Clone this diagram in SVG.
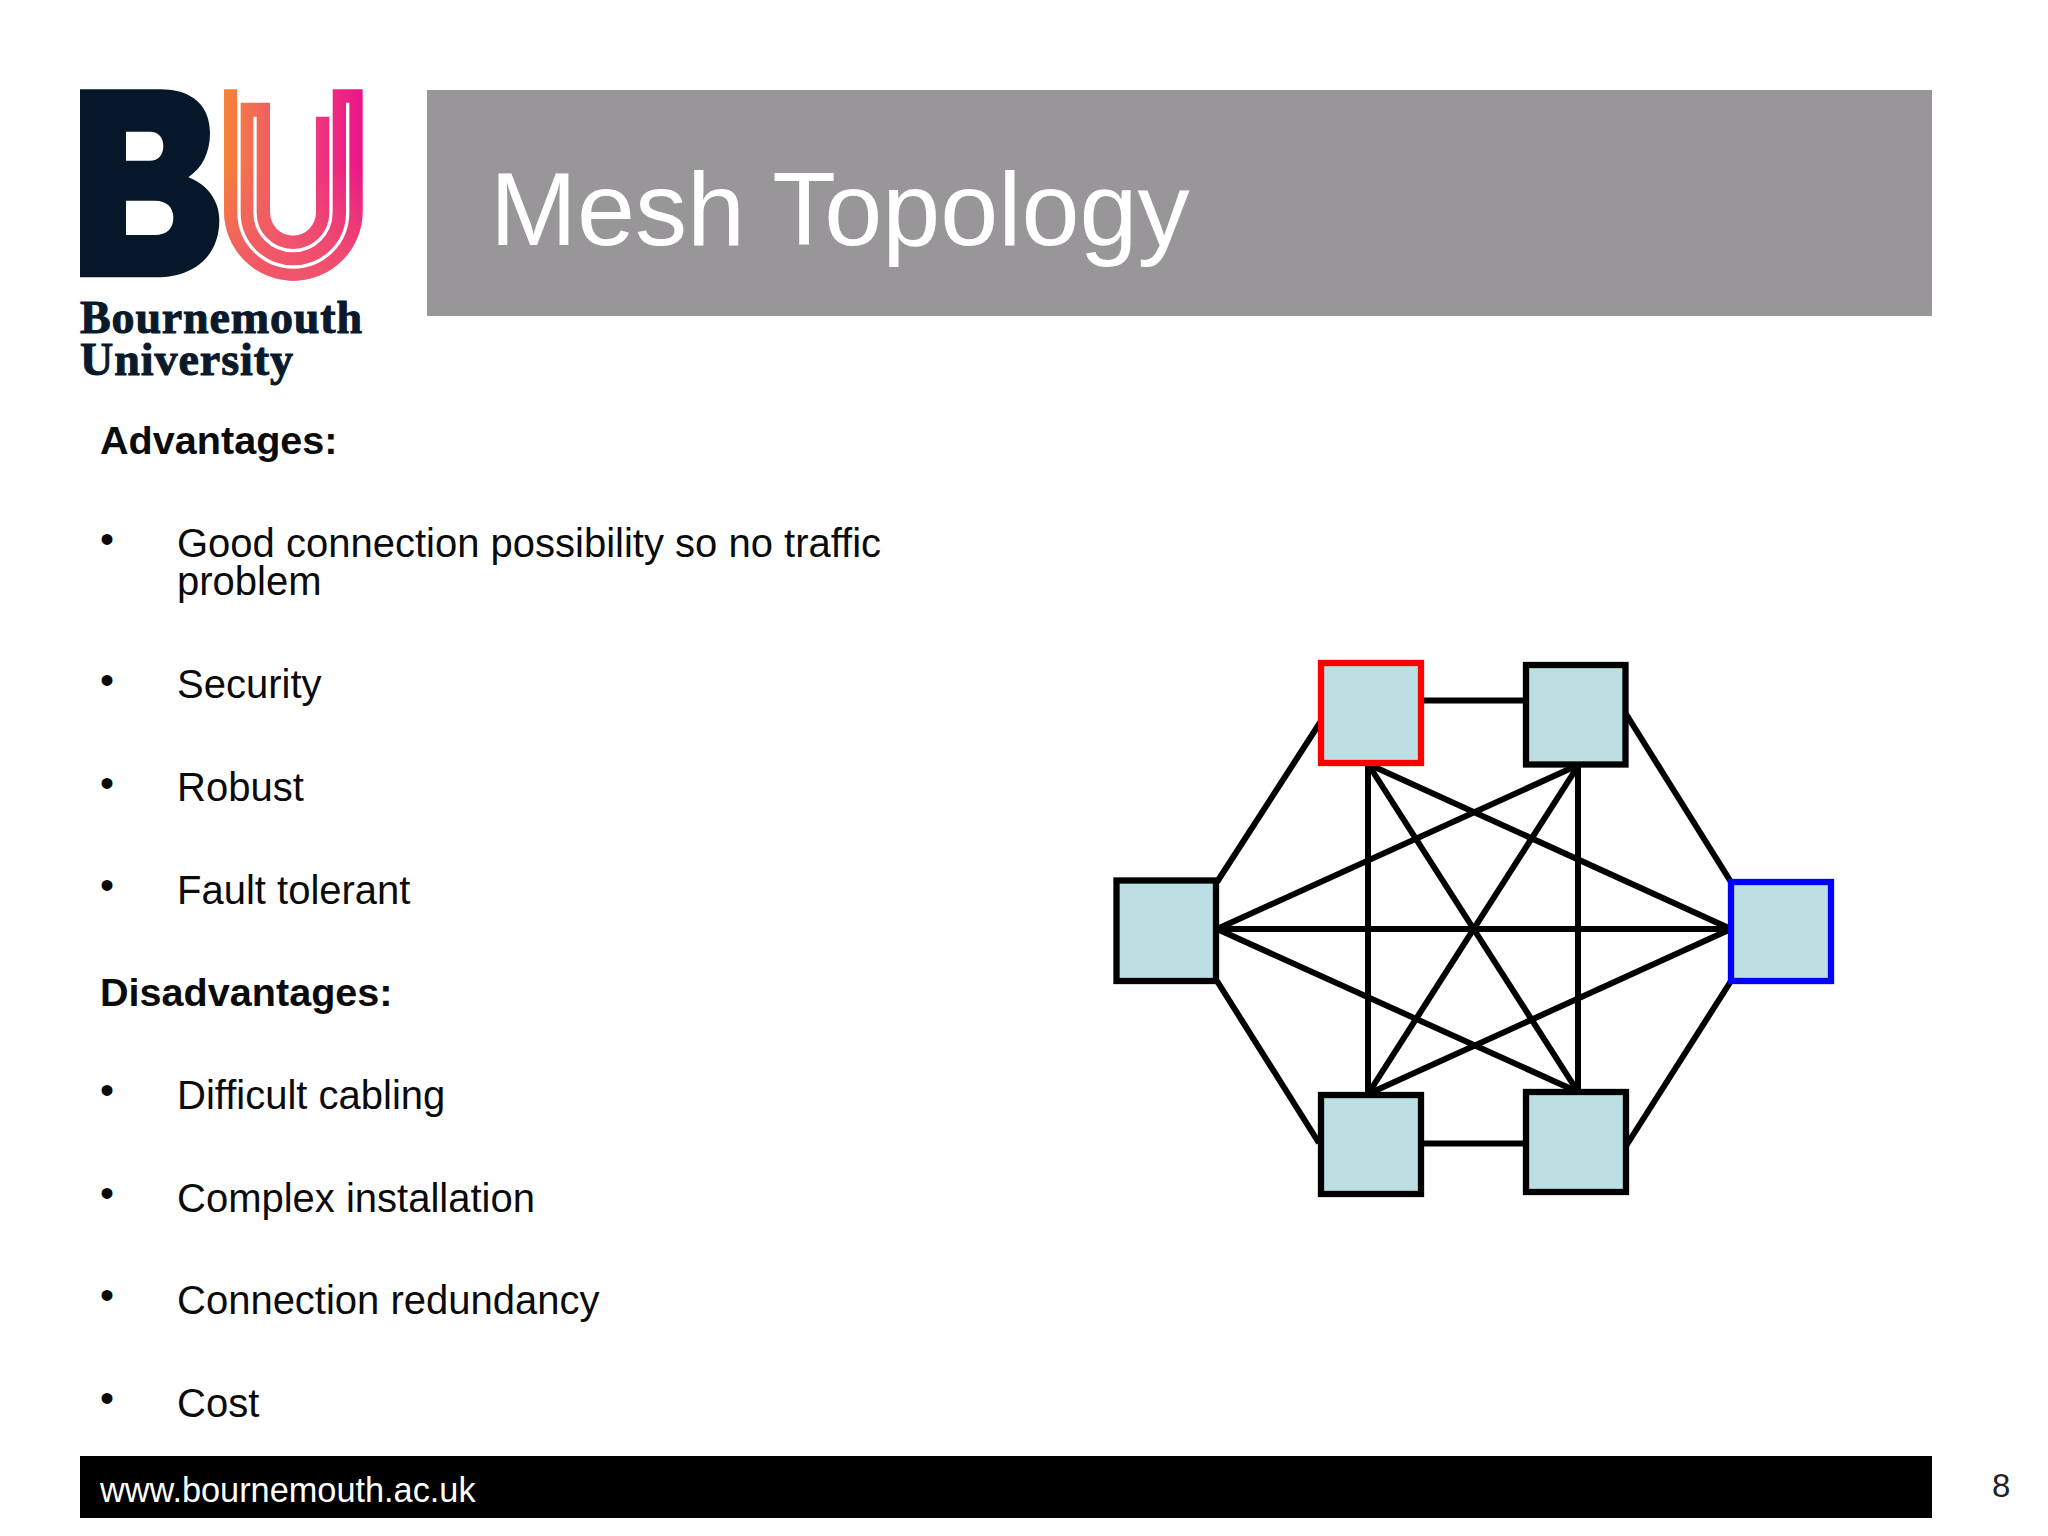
<svg xmlns="http://www.w3.org/2000/svg" width="2048" height="1536" viewBox="0 0 2048 1536">
<style>
text{font-family:"Liberation Sans",Arial,sans-serif}
.b{font-size:40px;fill:#0b0b0b}
.h{font-size:39.6px;font-weight:700;fill:#0b0b0b}
.n{fill:#bbdfe2;stroke:#000;stroke-width:6.3}
.c line{stroke:#000;stroke-width:6;stroke-linecap:butt}
.lg{font-family:"Liberation Serif",serif;font-weight:700;font-size:46px;fill:#0a1a2b;stroke:#0a1a2b;stroke-width:1}
</style>
<defs>
<linearGradient id="ug" gradientUnits="userSpaceOnUse" x1="492" y1="200" x2="908" y2="200"><stop offset="0" stop-color="#f58537"/><stop offset=".5" stop-color="#ef4a78"/><stop offset="1" stop-color="#ec1388"/></linearGradient>
<linearGradient id="ug2" gradientUnits="userSpaceOnUse" x1="0" y1="280" x2="0" y2="630"><stop offset="0" stop-color="#f0566a" stop-opacity="0"/><stop offset="1" stop-color="#f0566a" stop-opacity=".95"/></linearGradient>
<path id="ushape" d="M492 58H532V98H630V428A69 69 0 0 0 768 428V140H818V58H908V424A208 208 0 0 1 492 424Z"/>
</defs>
<rect width="2048" height="1536" fill="#fff"/>
<g id="logo">
<g transform="translate(60 70) scale(.33333)">
<path fill="#06172a" fill-rule="evenodd" d="M60 58H300C400 58 450 110 450 190C450 250 425 295 385 322C445 345 478 395 478 450C478 560 400 622 290 622H60ZM198 185V272H270C295 272 310 255 310 228C310 202 295 185 270 185ZM198 392V495H285C320 495 340 475 340 443C340 412 320 392 285 392Z"/>
<use href="#ushape" fill="url(#ug)"/>
<use href="#ushape" fill="url(#ug2)"/>
<path fill="none" stroke="#fff" stroke-width="10" d="M537 58V428A163 163 0 0 0 863 428V98"/>
<path fill="none" stroke="#fff" stroke-width="10" d="M585 140V428A114 114 0 0 0 813 428V140"/>
</g>
<text class="lg" x="80" y="333" textLength="282">Bournemouth</text>
<text class="lg" x="80" y="375" textLength="213">University</text>
</g>
<g id="title"><rect x="427" y="90" width="1505" height="226" fill="#989698"/>
<text x="490" y="245" font-size="104.3" fill="#fff">Mesh Topology</text></g>
<g id="content">
<text class="h" x="100" y="454">Advantages:</text>
<text class="b" x="100" y="553">•</text><text class="b" x="177" y="557">Good connection possibility so no traffic</text><text class="b" x="177" y="595">problem</text>
<text class="b" x="100" y="694">•</text><text class="b" x="177" y="698">Security</text>
<text class="b" x="100" y="797">•</text><text class="b" x="177" y="801">Robust</text>
<text class="b" x="100" y="899">•</text><text class="b" x="177" y="904">Fault tolerant</text>
<text class="h" x="100" y="1006">Disadvantages:</text>
<text class="b" x="100" y="1104">•</text><text class="b" x="177" y="1109">Difficult cabling</text>
<text class="b" x="100" y="1207">•</text><text class="b" x="177" y="1212">Complex installation</text>
<text class="b" x="100" y="1309">•</text><text class="b" x="177" y="1314">Connection redundancy</text>
<text class="b" x="100" y="1412">•</text><text class="b" x="177" y="1417">Cost</text>
</g>
<g id="connectors" class="c">
<line x1="1217" y1="929" x2="1731" y2="929"/>
<line x1="1368" y1="764" x2="1368" y2="1094"/>
<line x1="1578" y1="766" x2="1578" y2="1092"/>
<line x1="1217" y1="929" x2="1576" y2="766"/>
<line x1="1217" y1="929" x2="1578" y2="1092"/>
<line x1="1368" y1="764" x2="1731" y2="929"/>
<line x1="1368" y1="1094" x2="1731" y2="929"/>
<line x1="1368" y1="764" x2="1578" y2="1092"/>
<line x1="1578" y1="766" x2="1368" y2="1094"/>
<line x1="1323" y1="718" x2="1217" y2="882"/>
<line x1="1626" y1="714" x2="1731" y2="882"/>
<line x1="1217" y1="981" x2="1319" y2="1143"/>
<line x1="1626" y1="1146" x2="1731" y2="981"/>
<line x1="1421" y1="700.5" x2="1526" y2="700.5"/>
<line x1="1421" y1="1143.5" x2="1526" y2="1143.5"/>
</g>
<g id="node-left"><rect class="n" x="1116.5" y="880.5" width="99.5" height="100.5"/></g>
<g id="node-top-left"><rect class="n" x="1321" y="663" width="100" height="100" style="stroke:#f00"/></g>
<g id="node-top-right"><rect class="n" x="1526" y="665" width="99.5" height="99.5"/></g>
<g id="node-right"><rect class="n" x="1731" y="882" width="100" height="99" style="stroke:#00f"/></g>
<g id="node-bottom-left"><rect class="n" x="1321" y="1095" width="100" height="99"/></g>
<g id="node-bottom-right"><rect class="n" x="1526" y="1092" width="100" height="100"/></g>
<g id="footer"><rect x="80" y="1456" width="1852" height="62"/>
<text x="100" y="1502" font-size="34.3" fill="#fff">www.bournemouth.ac.uk</text>
<text x="1992" y="1497" font-size="33" fill="#222">8</text></g>
</svg>
